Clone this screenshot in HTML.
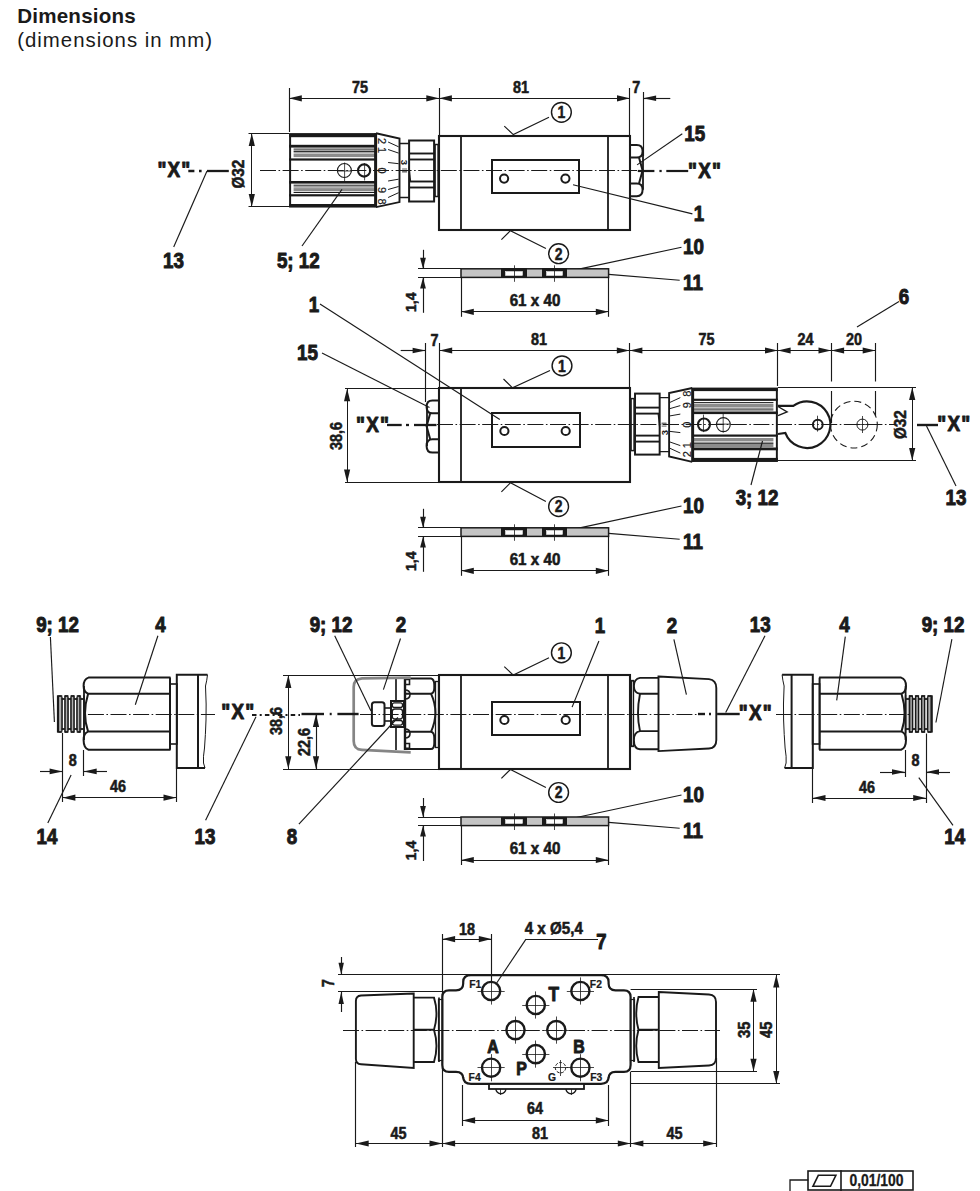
<!DOCTYPE html>
<html><head><meta charset="utf-8"><style>html,body{margin:0;padding:0;background:#fff;width:980px;height:1191px;overflow:hidden;position:relative}</style></head>
<body><div style="position:absolute;left:17.2px;top:0;font-family:'Liberation Sans',sans-serif;color:#1a1a1a">
<div style="position:absolute;left:0;top:4.2px;font-size:20.6px;font-weight:bold;white-space:nowrap;letter-spacing:0.2px">Dimensions</div>
<div style="position:absolute;left:0;top:28.6px;font-size:20.4px;white-space:nowrap;letter-spacing:1.0px">(dimensions in mm)</div>
</div>
<svg width="980" height="1191" viewBox="0 0 980 1191" style="position:absolute;left:0;top:0" fill="#1a1a1a"><style>text{font-family:"Liberation Sans",sans-serif}</style><line x1="289.5" y1="88" x2="289.5" y2="132" stroke="#1a1a1a" stroke-width="1.15" />
<line x1="439.5" y1="88" x2="439.5" y2="135" stroke="#1a1a1a" stroke-width="1.15" />
<line x1="629.5" y1="88" x2="629.5" y2="135" stroke="#1a1a1a" stroke-width="1.15" />
<line x1="643.5" y1="92" x2="643.5" y2="156" stroke="#1a1a1a" stroke-width="1.15" />
<line x1="289" y1="98.5" x2="439.1" y2="98.5" stroke="#1a1a1a" stroke-width="1" />
<polygon points="289,98.3 301.8,95.2 301.8,101.4" fill="#1a1a1a"/>
<polygon points="439.1,98.3 426.3,95.2 426.3,101.4" fill="#1a1a1a"/>
<line x1="439.1" y1="98.5" x2="629.8" y2="98.5" stroke="#1a1a1a" stroke-width="1" />
<polygon points="439.1,98.3 451.9,95.2 451.9,101.4" fill="#1a1a1a"/>
<polygon points="629.8,98.3 617,95.2 617,101.4" fill="#1a1a1a"/>
<line x1="643.1" y1="98.5" x2="670.3" y2="98.5" stroke="#1a1a1a" stroke-width="1.15" />
<polygon points="643.1,98.3 656.1,95.5 656.1,101.1" fill="#1a1a1a"/>
<text transform="translate(360,93) scale(0.9,1)" font-size="16" font-weight="bold" text-anchor="middle" stroke="#1a1a1a" stroke-width="0.55" stroke-linejoin="round">75</text>
<text transform="translate(521,93) scale(0.9,1)" font-size="16" font-weight="bold" text-anchor="middle" stroke="#1a1a1a" stroke-width="0.55" stroke-linejoin="round">81</text>
<text transform="translate(636.2,93) scale(0.9,1)" font-size="16" font-weight="bold" text-anchor="middle" stroke="#1a1a1a" stroke-width="0.55" stroke-linejoin="round">7</text>
<g transform="translate(439.1,170.5)"><rect x="-149" y="-36" width="86" height="72" fill="none" stroke="#1a1a1a" stroke-width="2" />
<rect x="-150" y="-37.3" width="86.9" height="4" fill="#1a1a1a"/>
<rect x="-150" y="-25.7" width="86.9" height="2.8" fill="#1a1a1a"/>
<rect x="-150" y="-12.1" width="86.9" height="2.2" fill="#1a1a1a"/>
<rect x="-150" y="10.5" width="86.9" height="2.6" fill="#1a1a1a"/>
<rect x="-150" y="23.7" width="86.9" height="2.2" fill="#1a1a1a"/>
<rect x="-150" y="33.5" width="86.9" height="3.1" fill="#1a1a1a"/>
<rect x="-145.5" y="-21.9" width="82.4" height="1" fill="#1a1a1a"/>
<rect x="-145.5" y="-19.9" width="82.4" height="1.3" fill="#1a1a1a"/>
<rect x="-145.5" y="-18" width="82.4" height="0.8" fill="#555"/>
<rect x="-145.5" y="-16.6" width="82.4" height="3.2" fill="#8c8c8c"/>
<rect x="-145.5" y="14.2" width="82.4" height="1" fill="#1a1a1a"/>
<rect x="-145.5" y="15.9" width="82.4" height="1.1" fill="#666"/>
<rect x="-145.5" y="17.6" width="82.4" height="3.2" fill="#8c8c8c"/>
<rect x="-145.5" y="21.5" width="82.4" height="1" fill="#1a1a1a"/>
<line x1="-64" y1="-37.3" x2="-64" y2="36.6" stroke="#1a1a1a" stroke-width="2" />
<circle cx="-94.7" cy="0" r="7" fill="none" stroke="#1a1a1a" stroke-width="1.1" />
<line x1="-94.5" y1="-8" x2="-94.5" y2="11" stroke="#1a1a1a" stroke-width="0.8" />
<line x1="-102" y1="0.5" x2="-87" y2="0.5" stroke="#1a1a1a" stroke-width="0.8" />
<circle cx="-75" cy="0" r="6.1" fill="none" stroke="#1a1a1a" stroke-width="2.1" />
<line x1="-74.5" y1="-7.5" x2="-74.5" y2="10" stroke="#1a1a1a" stroke-width="0.8" />
<path d="M-63.1,-37.3 L-39.6,-31.9 L-39.6,31.6 L-63.1,36.6" fill="none" stroke="#1a1a1a" stroke-width="1.9" />
<line x1="-51" y1="-28.5" x2="-40.5" y2="-23.7" stroke="#1a1a1a" stroke-width="1" />
<line x1="-51" y1="-21" x2="-40.5" y2="-17.4" stroke="#1a1a1a" stroke-width="1" />
<line x1="-51" y1="-8" x2="-40.5" y2="-6.8" stroke="#1a1a1a" stroke-width="1" />
<line x1="-51" y1="10.5" x2="-40.5" y2="8.7" stroke="#1a1a1a" stroke-width="1" />
<line x1="-51" y1="19" x2="-40.5" y2="16" stroke="#1a1a1a" stroke-width="1" />
<line x1="-51" y1="27" x2="-40.5" y2="22.2" stroke="#1a1a1a" stroke-width="1" />
<text transform="translate(-57.5,-29.5) rotate(90)" font-size="11" font-weight="normal" text-anchor="middle" dy="3.9" stroke="#1a1a1a" stroke-width="0.2">2</text>
<text transform="translate(-57.5,-20.5) rotate(90)" font-size="11" font-weight="normal" text-anchor="middle" dy="3.9" stroke="#1a1a1a" stroke-width="0.2">1</text>
<text transform="translate(-57.5,0) rotate(90)" font-size="11" font-weight="normal" text-anchor="middle" dy="3.9" stroke="#1a1a1a" stroke-width="0.2">0</text>
<text transform="translate(-57.5,19.5) rotate(90)" font-size="11" font-weight="normal" text-anchor="middle" dy="3.9" stroke="#1a1a1a" stroke-width="0.2">9</text>
<text transform="translate(-57.5,31) rotate(90)" font-size="11" font-weight="normal" text-anchor="middle" dy="3.9" stroke="#1a1a1a" stroke-width="0.2">8</text>
<path d="M-39.6,-27 L-30.3,-27 M-39.6,27 L-30.3,27" fill="none" stroke="#1a1a1a" stroke-width="1.4" />
<text transform="translate(-35,-8) rotate(90)" font-size="9.5" font-weight="bold" text-anchor="middle" dy="3.4">3</text>
<line x1="-37" y1="0.5" x2="-32" y2="0.5" stroke="#1a1a1a" stroke-width="0.8" />
<line x1="-37" y1="-1.5" x2="-32" y2="-1.5" stroke="#1a1a1a" stroke-width="0.7" />
<line x1="-37" y1="1.5" x2="-32" y2="1.5" stroke="#1a1a1a" stroke-width="0.7" />
<rect x="-30" y="-30" width="25" height="61" fill="none" stroke="#1a1a1a" stroke-width="2" />
<line x1="-30.1" y1="-17" x2="-4.9" y2="-17" stroke="#1a1a1a" stroke-width="1.9" />
<line x1="-30.1" y1="-11" x2="-4.9" y2="-11" stroke="#1a1a1a" stroke-width="1.9" />
<line x1="-30.1" y1="11" x2="-4.9" y2="11" stroke="#1a1a1a" stroke-width="1.9" />
<line x1="-30.1" y1="17" x2="-4.9" y2="17" stroke="#1a1a1a" stroke-width="1.9" />
<path d="M-30.1,-4 L-28.5,11" fill="none" stroke="#1a1a1a" stroke-width="1.2" />
<rect x="-4" y="-26" width="3" height="52" fill="none" stroke="#1a1a1a" stroke-width="1.5" /></g>
<rect x="439" y="136" width="191" height="94" fill="none" stroke="#1a1a1a" stroke-width="2.1" />
<line x1="461" y1="136.2" x2="461" y2="230.2" stroke="#1a1a1a" stroke-width="1.8" />
<line x1="608" y1="136.2" x2="608" y2="230.2" stroke="#1a1a1a" stroke-width="1.8" />
<rect x="492" y="160" width="87" height="33" fill="none" stroke="#1a1a1a" stroke-width="2" />
<circle cx="504.1" cy="178.6" r="4.1" fill="none" stroke="#1a1a1a" stroke-width="2" />
<circle cx="565.4" cy="178.6" r="4.1" fill="none" stroke="#1a1a1a" stroke-width="2" />
<path d="M629.8,145 L636.8,145 Q642.6,145 642.6,151.3 Q642.6,157.6 636.8,157.6 L629.8,157.6 M629.8,183.4 L636.8,183.4 Q642.6,183.4 642.6,189.85 Q642.6,196.3 636.8,196.3 L629.8,196.3 M639,157.6 L642.6,170.5 L639,183.4" fill="none" stroke="#1a1a1a" stroke-width="2" />
<line x1="643" y1="151.3" x2="643" y2="189.85" stroke="#1a1a1a" stroke-width="1.8" />
<line x1="248.5" y1="133.5" x2="289" y2="133.5" stroke="#1a1a1a" stroke-width="1.15" />
<line x1="248.5" y1="206.5" x2="289" y2="206.5" stroke="#1a1a1a" stroke-width="1.15" />
<line x1="251.5" y1="133.2" x2="251.5" y2="206.9" stroke="#1a1a1a" stroke-width="1" />
<polygon points="251.8,133.2 248.7,146 254.9,146" fill="#1a1a1a"/>
<polygon points="251.8,206.9 248.7,194.1 254.9,194.1" fill="#1a1a1a"/>
<text transform="translate(244,174.1) rotate(-90) scale(0.9,1)" font-size="17" font-weight="bold" text-anchor="middle" stroke="#1a1a1a" stroke-width="0.55" stroke-linejoin="round">Ø32</text>
<line x1="260" y1="170.5" x2="637" y2="170.5" stroke="#1a1a1a" stroke-width="1.15" stroke-dasharray="16 2.5 1.6 2.5"/>
<line x1="188.3" y1="171" x2="194.4" y2="171" stroke="#1a1a1a" stroke-width="2.5" />
<line x1="199" y1="171" x2="201.6" y2="171" stroke="#1a1a1a" stroke-width="2.5" />
<line x1="207" y1="171" x2="228.8" y2="171" stroke="#1a1a1a" stroke-width="2.3" />
<line x1="637.8" y1="171" x2="654.4" y2="171" stroke="#1a1a1a" stroke-width="2.2" />
<line x1="659.4" y1="171" x2="661.7" y2="171" stroke="#1a1a1a" stroke-width="2.2" />
<line x1="666.3" y1="171" x2="688.2" y2="171" stroke="#1a1a1a" stroke-width="2.2" />
<text transform="translate(172.6,176.7) scale(0.84,1)" font-size="22.5" font-weight="bold" text-anchor="middle" stroke="#1a1a1a" stroke-width="1.0" stroke-linejoin="round" letter-spacing="1.4" dx="2.2">"X"</text>
<text transform="translate(703.2,177.5) scale(0.84,1)" font-size="22.5" font-weight="bold" text-anchor="middle" stroke="#1a1a1a" stroke-width="1.0" stroke-linejoin="round" letter-spacing="1.4" dx="2.2">"X"</text>
<text transform="translate(173.5,267.5) scale(0.86,1)" font-size="21.8" font-weight="bold" text-anchor="middle" stroke="#1a1a1a" stroke-width="1.0" stroke-linejoin="round">13</text>
<line x1="173.7" y1="247" x2="207" y2="171" stroke="#1a1a1a" stroke-width="1.15" />
<text transform="translate(298.3,267.5) scale(0.86,1)" font-size="21.8" font-weight="bold" text-anchor="middle" stroke="#1a1a1a" stroke-width="1.0" stroke-linejoin="round">5; 12</text>
<line x1="302" y1="246" x2="342" y2="189.4" stroke="#1a1a1a" stroke-width="1.15" />
<text transform="translate(694.8,140.8) scale(0.86,1)" font-size="21.8" font-weight="bold" text-anchor="middle" stroke="#1a1a1a" stroke-width="1.0" stroke-linejoin="round">15</text>
<line x1="682.3" y1="133.7" x2="637.1" y2="164.9" stroke="#1a1a1a" stroke-width="1.15" />
<text transform="translate(699,221) scale(0.86,1)" font-size="21.8" font-weight="bold" text-anchor="middle" stroke="#1a1a1a" stroke-width="1.0" stroke-linejoin="round">1</text>
<line x1="692.4" y1="213.9" x2="573" y2="184.8" stroke="#1a1a1a" stroke-width="1.15" />
<circle cx="561.4" cy="112.3" r="9.9" fill="none" stroke="#1a1a1a" stroke-width="1.45" />
<text transform="translate(561.4,118.2) scale(0.85,1)" font-size="16.5" font-weight="bold" text-anchor="middle" stroke="#1a1a1a" stroke-width="0.5" stroke-linejoin="round">1</text>
<path d="M549,117.2 L513.3,134.6 L504.3,126.1" fill="none" stroke="#1a1a1a" stroke-width="1.15" />
<circle cx="558.6" cy="253.7" r="9.9" fill="none" stroke="#1a1a1a" stroke-width="1.45" />
<text transform="translate(558.6,259.6) scale(0.85,1)" font-size="16.5" font-weight="bold" text-anchor="middle" stroke="#1a1a1a" stroke-width="0.5" stroke-linejoin="round">2</text>
<path d="M545.9,248.6 L510.4,230.7 L501.4,239.6" fill="none" stroke="#1a1a1a" stroke-width="1.15" />
<text transform="translate(683,254) scale(0.86,1)" font-size="21.8" font-weight="bold" text-anchor="start" stroke="#1a1a1a" stroke-width="1.0" stroke-linejoin="round">10</text>
<line x1="681.5" y1="247.3" x2="567" y2="271.6" stroke="#1a1a1a" stroke-width="1.15" />
<text transform="translate(683,290) scale(0.86,1)" font-size="21.8" font-weight="bold" text-anchor="start" stroke="#1a1a1a" stroke-width="1.0" stroke-linejoin="round">11</text>
<line x1="679.7" y1="280.3" x2="608.6" y2="274.4" stroke="#1a1a1a" stroke-width="1.15" />
<rect x="461" y="268.8" width="147.6" height="8.6" fill="#c4c4c4" stroke="#1a1a1a" stroke-width="1.5"/>
<rect x="501.5" y="268.5" width="25" height="9" fill="#1a1a1a" stroke="#1a1a1a" stroke-width="1" />
<rect x="505.5" y="271.5" width="17" height="4" fill="#fff" stroke="#fff" stroke-width="0.5" />
<line x1="514.5" y1="265.3" x2="514.5" y2="281.8" stroke="#1a1a1a" stroke-width="0.8" />
<rect x="542.5" y="268.5" width="24" height="9" fill="#1a1a1a" stroke="#1a1a1a" stroke-width="1" />
<rect x="546.5" y="271.5" width="16" height="4" fill="#fff" stroke="#fff" stroke-width="0.5" />
<line x1="554.5" y1="265.3" x2="554.5" y2="281.8" stroke="#1a1a1a" stroke-width="0.8" />
<line x1="418" y1="268.5" x2="461" y2="268.5" stroke="#1a1a1a" stroke-width="1.15" />
<line x1="418" y1="277.5" x2="461" y2="277.5" stroke="#1a1a1a" stroke-width="1.15" />
<line x1="423.5" y1="249.8" x2="423.5" y2="268.8" stroke="#1a1a1a" stroke-width="1.15" />
<polygon points="423,268.8 420.1,257.8 425.9,257.8" fill="#1a1a1a"/>
<line x1="423.5" y1="277.4" x2="423.5" y2="312.8" stroke="#1a1a1a" stroke-width="1.15" />
<polygon points="423,277.4 420.1,288.4 425.9,288.4" fill="#1a1a1a"/>
<text transform="translate(415.5,302.3) rotate(-90) scale(0.9,1)" font-size="15.5" font-weight="bold" text-anchor="middle" stroke="#1a1a1a" stroke-width="0.55" stroke-linejoin="round">1,4</text>
<line x1="461.5" y1="277.4" x2="461.5" y2="316.8" stroke="#1a1a1a" stroke-width="1.15" />
<line x1="608.5" y1="277.4" x2="608.5" y2="316.8" stroke="#1a1a1a" stroke-width="1.15" />
<line x1="461" y1="311.5" x2="608.6" y2="311.5" stroke="#1a1a1a" stroke-width="1" />
<polygon points="461,311.8 473.8,308.7 473.8,314.9" fill="#1a1a1a"/>
<polygon points="608.6,311.8 595.8,308.7 595.8,314.9" fill="#1a1a1a"/>
<text transform="translate(535,305.8) scale(0.95,1)" font-size="16" font-weight="bold" text-anchor="middle" stroke="#1a1a1a" stroke-width="0.55" stroke-linejoin="round">61 x 40</text>
<line x1="425.5" y1="343" x2="425.5" y2="402" stroke="#1a1a1a" stroke-width="1.15" />
<line x1="439.5" y1="343" x2="439.5" y2="387" stroke="#1a1a1a" stroke-width="1.15" />
<line x1="629.5" y1="343" x2="629.5" y2="387" stroke="#1a1a1a" stroke-width="1.15" />
<line x1="777.5" y1="343" x2="777.5" y2="386" stroke="#1a1a1a" stroke-width="1.15" />
<line x1="831.5" y1="343" x2="831.5" y2="381.5" stroke="#1a1a1a" stroke-width="1.15" />
<line x1="831.5" y1="391" x2="831.5" y2="423" stroke="#1a1a1a" stroke-width="1.15" />
<line x1="875.5" y1="343" x2="875.5" y2="381.5" stroke="#1a1a1a" stroke-width="1.15" />
<line x1="875.5" y1="391" x2="875.5" y2="416" stroke="#1a1a1a" stroke-width="1.15" />
<line x1="400.7" y1="350.5" x2="425.6" y2="350.5" stroke="#1a1a1a" stroke-width="1.15" />
<polygon points="425.6,350.5 412.6,347.7 412.6,353.3" fill="#1a1a1a"/>
<line x1="439.4" y1="350.5" x2="629.6" y2="350.5" stroke="#1a1a1a" stroke-width="1" />
<polygon points="439.4,350.5 452.2,347.4 452.2,353.6" fill="#1a1a1a"/>
<polygon points="629.6,350.5 616.8,347.4 616.8,353.6" fill="#1a1a1a"/>
<line x1="629.6" y1="350.5" x2="777.8" y2="350.5" stroke="#1a1a1a" stroke-width="1" />
<polygon points="629.6,350.5 642.4,347.4 642.4,353.6" fill="#1a1a1a"/>
<polygon points="777.8,350.5 765,347.4 765,353.6" fill="#1a1a1a"/>
<line x1="777.8" y1="350.5" x2="831.3" y2="350.5" stroke="#1a1a1a" stroke-width="1" />
<polygon points="777.8,350.5 790.6,347.4 790.6,353.6" fill="#1a1a1a"/>
<polygon points="831.3,350.5 818.5,347.4 818.5,353.6" fill="#1a1a1a"/>
<line x1="831.3" y1="350.5" x2="875.5" y2="350.5" stroke="#1a1a1a" stroke-width="1" />
<polygon points="831.3,350.5 844.1,347.4 844.1,353.6" fill="#1a1a1a"/>
<polygon points="875.5,350.5 862.7,347.4 862.7,353.6" fill="#1a1a1a"/>
<text transform="translate(434.5,346) scale(0.9,1)" font-size="16" font-weight="bold" text-anchor="middle" stroke="#1a1a1a" stroke-width="0.55" stroke-linejoin="round">7</text>
<text transform="translate(539,345) scale(0.9,1)" font-size="16" font-weight="bold" text-anchor="middle" stroke="#1a1a1a" stroke-width="0.55" stroke-linejoin="round">81</text>
<text transform="translate(706.6,345) scale(0.9,1)" font-size="16" font-weight="bold" text-anchor="middle" stroke="#1a1a1a" stroke-width="0.55" stroke-linejoin="round">75</text>
<text transform="translate(805.5,345) scale(0.9,1)" font-size="16" font-weight="bold" text-anchor="middle" stroke="#1a1a1a" stroke-width="0.55" stroke-linejoin="round">24</text>
<text transform="translate(854,345) scale(0.9,1)" font-size="16" font-weight="bold" text-anchor="middle" stroke="#1a1a1a" stroke-width="0.55" stroke-linejoin="round">20</text>
<g transform="translate(630.1,424.6) rotate(180) scale(0.985,1)"><rect x="-149" y="-36" width="86" height="72" fill="none" stroke="#1a1a1a" stroke-width="2" />
<rect x="-150" y="-37.3" width="86.9" height="4" fill="#1a1a1a"/>
<rect x="-150" y="-25.7" width="86.9" height="2.8" fill="#1a1a1a"/>
<rect x="-150" y="-12.1" width="86.9" height="2.2" fill="#1a1a1a"/>
<rect x="-150" y="10.5" width="86.9" height="2.6" fill="#1a1a1a"/>
<rect x="-150" y="23.7" width="86.9" height="2.2" fill="#1a1a1a"/>
<rect x="-150" y="33.5" width="86.9" height="3.1" fill="#1a1a1a"/>
<rect x="-145.5" y="-21.9" width="82.4" height="1" fill="#1a1a1a"/>
<rect x="-145.5" y="-19.9" width="82.4" height="1.3" fill="#1a1a1a"/>
<rect x="-145.5" y="-18" width="82.4" height="0.8" fill="#555"/>
<rect x="-145.5" y="-16.6" width="82.4" height="3.2" fill="#8c8c8c"/>
<rect x="-145.5" y="14.2" width="82.4" height="1" fill="#1a1a1a"/>
<rect x="-145.5" y="15.9" width="82.4" height="1.1" fill="#666"/>
<rect x="-145.5" y="17.6" width="82.4" height="3.2" fill="#8c8c8c"/>
<rect x="-145.5" y="21.5" width="82.4" height="1" fill="#1a1a1a"/>
<line x1="-64" y1="-37.3" x2="-64" y2="36.6" stroke="#1a1a1a" stroke-width="2" />
<circle cx="-94.7" cy="0" r="7" fill="none" stroke="#1a1a1a" stroke-width="1.1" />
<line x1="-94.5" y1="-8" x2="-94.5" y2="11" stroke="#1a1a1a" stroke-width="0.8" />
<line x1="-102" y1="0.5" x2="-87" y2="0.5" stroke="#1a1a1a" stroke-width="0.8" />
<circle cx="-75" cy="0" r="6.1" fill="none" stroke="#1a1a1a" stroke-width="2.1" />
<line x1="-74.5" y1="-7.5" x2="-74.5" y2="10" stroke="#1a1a1a" stroke-width="0.8" />
<path d="M-63.1,-37.3 L-39.6,-31.9 L-39.6,31.6 L-63.1,36.6" fill="none" stroke="#1a1a1a" stroke-width="1.9" />
<line x1="-51" y1="-28.5" x2="-40.5" y2="-23.7" stroke="#1a1a1a" stroke-width="1" />
<line x1="-51" y1="-21" x2="-40.5" y2="-17.4" stroke="#1a1a1a" stroke-width="1" />
<line x1="-51" y1="-8" x2="-40.5" y2="-6.8" stroke="#1a1a1a" stroke-width="1" />
<line x1="-51" y1="10.5" x2="-40.5" y2="8.7" stroke="#1a1a1a" stroke-width="1" />
<line x1="-51" y1="19" x2="-40.5" y2="16" stroke="#1a1a1a" stroke-width="1" />
<line x1="-51" y1="27" x2="-40.5" y2="22.2" stroke="#1a1a1a" stroke-width="1" />
<text transform="translate(-57.5,-29.5) rotate(90)" font-size="11" font-weight="normal" text-anchor="middle" dy="3.9" stroke="#1a1a1a" stroke-width="0.2">2</text>
<text transform="translate(-57.5,-20.5) rotate(90)" font-size="11" font-weight="normal" text-anchor="middle" dy="3.9" stroke="#1a1a1a" stroke-width="0.2">1</text>
<text transform="translate(-57.5,0) rotate(90)" font-size="11" font-weight="normal" text-anchor="middle" dy="3.9" stroke="#1a1a1a" stroke-width="0.2">0</text>
<text transform="translate(-57.5,19.5) rotate(90)" font-size="11" font-weight="normal" text-anchor="middle" dy="3.9" stroke="#1a1a1a" stroke-width="0.2">9</text>
<text transform="translate(-57.5,31) rotate(90)" font-size="11" font-weight="normal" text-anchor="middle" dy="3.9" stroke="#1a1a1a" stroke-width="0.2">8</text>
<path d="M-39.6,-27 L-30.3,-27 M-39.6,27 L-30.3,27" fill="none" stroke="#1a1a1a" stroke-width="1.4" />
<text transform="translate(-35,-8) rotate(90)" font-size="9.5" font-weight="bold" text-anchor="middle" dy="3.4">3</text>
<line x1="-37" y1="0.5" x2="-32" y2="0.5" stroke="#1a1a1a" stroke-width="0.8" />
<line x1="-37" y1="-1.5" x2="-32" y2="-1.5" stroke="#1a1a1a" stroke-width="0.7" />
<line x1="-37" y1="1.5" x2="-32" y2="1.5" stroke="#1a1a1a" stroke-width="0.7" />
<rect x="-30" y="-30" width="25" height="61" fill="none" stroke="#1a1a1a" stroke-width="2" />
<line x1="-30.1" y1="-17" x2="-4.9" y2="-17" stroke="#1a1a1a" stroke-width="1.9" />
<line x1="-30.1" y1="-11" x2="-4.9" y2="-11" stroke="#1a1a1a" stroke-width="1.9" />
<line x1="-30.1" y1="11" x2="-4.9" y2="11" stroke="#1a1a1a" stroke-width="1.9" />
<line x1="-30.1" y1="17" x2="-4.9" y2="17" stroke="#1a1a1a" stroke-width="1.9" />
<path d="M-30.1,-4 L-28.5,11" fill="none" stroke="#1a1a1a" stroke-width="1.2" />
<rect x="-4" y="-26" width="3" height="52" fill="none" stroke="#1a1a1a" stroke-width="1.5" /></g>
<rect x="439" y="388" width="191" height="94" fill="none" stroke="#1a1a1a" stroke-width="2.1" />
<line x1="461" y1="388.5" x2="461" y2="482.3" stroke="#1a1a1a" stroke-width="1.8" />
<rect x="492" y="413" width="88" height="34" fill="none" stroke="#1a1a1a" stroke-width="2" />
<circle cx="504.4" cy="431" r="4.1" fill="none" stroke="#1a1a1a" stroke-width="2" />
<circle cx="565.7" cy="431" r="4.1" fill="none" stroke="#1a1a1a" stroke-width="2" />
<path d="M439.4,400.5 L432.4,400.5 Q426.6,400.5 426.6,406.9 Q426.6,413.3 432.4,413.3 L439.4,413.3 M439.4,439.3 L432.4,439.3 Q426.6,439.3 426.6,445.95 Q426.6,452.6 432.4,452.6 L439.4,452.6 M430.2,413.3 L426.6,426.3 L430.2,439.3" fill="none" stroke="#1a1a1a" stroke-width="2" />
<line x1="427" y1="406.9" x2="427" y2="445.95" stroke="#1a1a1a" stroke-width="1.8" />
<path d="M778,405.9 L793.3,405.9 A23.3,23.3 0 1 1 785.3,432.9 L778,434" fill="none" stroke="#1a1a1a" stroke-width="2.2" />
<path d="M778,406.5 L787.1,411.8 L778,415.7" fill="none" stroke="#1a1a1a" stroke-width="1.4" />
<circle cx="817.8" cy="424.6" r="4.9" fill="none" stroke="#1a1a1a" stroke-width="2" />
<line x1="817.5" y1="415.7" x2="817.5" y2="431.6" stroke="#1a1a1a" stroke-width="0.8" />
<circle cx="853.9" cy="424.6" r="23.4" fill="none" stroke="#1a1a1a" stroke-width="1.1" stroke-dasharray="7 4"/>
<circle cx="862.4" cy="424.6" r="5.5" fill="none" stroke="#1a1a1a" stroke-width="1" />
<line x1="862.5" y1="416" x2="862.5" y2="433" stroke="#1a1a1a" stroke-width="0.8" />
<line x1="855" y1="424.5" x2="870" y2="424.5" stroke="#1a1a1a" stroke-width="0.8" />
<line x1="777.8" y1="387.5" x2="916" y2="387.5" stroke="#1a1a1a" stroke-width="1.15" />
<line x1="777.8" y1="460.5" x2="916" y2="460.5" stroke="#1a1a1a" stroke-width="1.15" />
<line x1="912.5" y1="387.3" x2="912.5" y2="460.8" stroke="#1a1a1a" stroke-width="1" />
<polygon points="912.2,387.3 909.1,400.1 915.3,400.1" fill="#1a1a1a"/>
<polygon points="912.2,460.8 909.1,448 915.3,448" fill="#1a1a1a"/>
<text transform="translate(906,424.6) rotate(-90) scale(0.9,1)" font-size="17" font-weight="bold" text-anchor="middle" stroke="#1a1a1a" stroke-width="0.55" stroke-linejoin="round">Ø32</text>
<line x1="345" y1="388.5" x2="439.4" y2="388.5" stroke="#1a1a1a" stroke-width="1.15" />
<line x1="345" y1="482.5" x2="439.4" y2="482.5" stroke="#1a1a1a" stroke-width="1.15" />
<line x1="347.5" y1="388.5" x2="347.5" y2="482.3" stroke="#1a1a1a" stroke-width="1" />
<polygon points="347.1,388.5 344,401.3 350.2,401.3" fill="#1a1a1a"/>
<polygon points="347.1,482.3 344,469.5 350.2,469.5" fill="#1a1a1a"/>
<text transform="translate(341.5,436) rotate(-90) scale(0.9,1)" font-size="16" font-weight="bold" text-anchor="middle" stroke="#1a1a1a" stroke-width="0.55" stroke-linejoin="round">38,6</text>
<line x1="437" y1="424.5" x2="895" y2="424.5" stroke="#1a1a1a" stroke-width="1.15" stroke-dasharray="16 2.5 1.6 2.5"/>
<line x1="387" y1="425" x2="401.7" y2="425" stroke="#1a1a1a" stroke-width="2.3" />
<line x1="406" y1="425" x2="409" y2="425" stroke="#1a1a1a" stroke-width="2.3" />
<line x1="414" y1="425" x2="436.5" y2="425" stroke="#1a1a1a" stroke-width="2.3" />
<line x1="917" y1="425" x2="938" y2="425" stroke="#1a1a1a" stroke-width="2.4" />
<text transform="translate(371.2,432) scale(0.84,1)" font-size="22.5" font-weight="bold" text-anchor="middle" stroke="#1a1a1a" stroke-width="1.0" stroke-linejoin="round" letter-spacing="1.4" dx="2.2">"X"</text>
<text transform="translate(952.5,430.6) scale(0.84,1)" font-size="22.5" font-weight="bold" text-anchor="middle" stroke="#1a1a1a" stroke-width="1.0" stroke-linejoin="round" letter-spacing="1.4" dx="2.2">"X"</text>
<text transform="translate(314,312) scale(0.86,1)" font-size="21.8" font-weight="bold" text-anchor="middle" stroke="#1a1a1a" stroke-width="1.0" stroke-linejoin="round">1</text>
<line x1="320" y1="304" x2="499.8" y2="419.5" stroke="#1a1a1a" stroke-width="1.15" />
<text transform="translate(307.5,360) scale(0.86,1)" font-size="21.8" font-weight="bold" text-anchor="middle" stroke="#1a1a1a" stroke-width="1.0" stroke-linejoin="round">15</text>
<line x1="322" y1="353" x2="429.5" y2="407.5" stroke="#1a1a1a" stroke-width="1.15" />
<text transform="translate(757,505) scale(0.86,1)" font-size="21.8" font-weight="bold" text-anchor="middle" stroke="#1a1a1a" stroke-width="1.0" stroke-linejoin="round">3; 12</text>
<line x1="751" y1="485" x2="762.5" y2="441" stroke="#1a1a1a" stroke-width="1.15" />
<text transform="translate(956,505) scale(0.86,1)" font-size="21.8" font-weight="bold" text-anchor="middle" stroke="#1a1a1a" stroke-width="1.0" stroke-linejoin="round">13</text>
<line x1="956" y1="486" x2="926.5" y2="426" stroke="#1a1a1a" stroke-width="1.15" />
<text transform="translate(904,304) scale(0.86,1)" font-size="21.8" font-weight="bold" text-anchor="middle" stroke="#1a1a1a" stroke-width="1.0" stroke-linejoin="round">6</text>
<line x1="899" y1="301.5" x2="857" y2="327" stroke="#1a1a1a" stroke-width="1.15" />
<circle cx="562" cy="365.8" r="9.9" fill="none" stroke="#1a1a1a" stroke-width="1.45" />
<text transform="translate(562,371.7) scale(0.85,1)" font-size="16.5" font-weight="bold" text-anchor="middle" stroke="#1a1a1a" stroke-width="0.5" stroke-linejoin="round">1</text>
<path d="M550,370.5 L512.5,387.8 L503.5,379" fill="none" stroke="#1a1a1a" stroke-width="1.15" />
<circle cx="558.6" cy="506.5" r="9.9" fill="none" stroke="#1a1a1a" stroke-width="1.45" />
<text transform="translate(558.6,512.4) scale(0.85,1)" font-size="16.5" font-weight="bold" text-anchor="middle" stroke="#1a1a1a" stroke-width="0.5" stroke-linejoin="round">2</text>
<path d="M545.9,501.5 L510.4,482.8 L501.4,491.8" fill="none" stroke="#1a1a1a" stroke-width="1.15" />
<text transform="translate(683,513) scale(0.86,1)" font-size="21.8" font-weight="bold" text-anchor="start" stroke="#1a1a1a" stroke-width="1.0" stroke-linejoin="round">10</text>
<line x1="681.5" y1="506" x2="567" y2="530.6" stroke="#1a1a1a" stroke-width="1.15" />
<text transform="translate(683,549) scale(0.86,1)" font-size="21.8" font-weight="bold" text-anchor="start" stroke="#1a1a1a" stroke-width="1.0" stroke-linejoin="round">11</text>
<line x1="679.7" y1="539.3" x2="608.6" y2="533.4" stroke="#1a1a1a" stroke-width="1.15" />
<rect x="461" y="527.8" width="147.6" height="8.6" fill="#c4c4c4" stroke="#1a1a1a" stroke-width="1.5"/>
<rect x="501.5" y="527.5" width="25" height="9" fill="#1a1a1a" stroke="#1a1a1a" stroke-width="1" />
<rect x="505.5" y="530.5" width="17" height="4" fill="#fff" stroke="#fff" stroke-width="0.5" />
<line x1="514.5" y1="524.3" x2="514.5" y2="540.8" stroke="#1a1a1a" stroke-width="0.8" />
<rect x="542.5" y="527.5" width="24" height="9" fill="#1a1a1a" stroke="#1a1a1a" stroke-width="1" />
<rect x="546.5" y="530.5" width="16" height="4" fill="#fff" stroke="#fff" stroke-width="0.5" />
<line x1="554.5" y1="524.3" x2="554.5" y2="540.8" stroke="#1a1a1a" stroke-width="0.8" />
<line x1="418" y1="527.5" x2="461" y2="527.5" stroke="#1a1a1a" stroke-width="1.15" />
<line x1="418" y1="536.5" x2="461" y2="536.5" stroke="#1a1a1a" stroke-width="1.15" />
<line x1="423.5" y1="508.8" x2="423.5" y2="527.8" stroke="#1a1a1a" stroke-width="1.15" />
<polygon points="423,527.8 420.1,516.8 425.9,516.8" fill="#1a1a1a"/>
<line x1="423.5" y1="536.4" x2="423.5" y2="571.8" stroke="#1a1a1a" stroke-width="1.15" />
<polygon points="423,536.4 420.1,547.4 425.9,547.4" fill="#1a1a1a"/>
<text transform="translate(415.5,561.3) rotate(-90) scale(0.9,1)" font-size="15.5" font-weight="bold" text-anchor="middle" stroke="#1a1a1a" stroke-width="0.55" stroke-linejoin="round">1,4</text>
<line x1="461.5" y1="536.4" x2="461.5" y2="575.8" stroke="#1a1a1a" stroke-width="1.15" />
<line x1="608.5" y1="536.4" x2="608.5" y2="575.8" stroke="#1a1a1a" stroke-width="1.15" />
<line x1="461" y1="570.5" x2="608.6" y2="570.5" stroke="#1a1a1a" stroke-width="1" />
<polygon points="461,570.8 473.8,567.7 473.8,573.9" fill="#1a1a1a"/>
<polygon points="608.6,570.8 595.8,567.7 595.8,573.9" fill="#1a1a1a"/>
<text transform="translate(535,564.8) scale(0.95,1)" font-size="16" font-weight="bold" text-anchor="middle" stroke="#1a1a1a" stroke-width="0.55" stroke-linejoin="round">61 x 40</text>
<rect x="439" y="675" width="191" height="94" fill="none" stroke="#1a1a1a" stroke-width="2.1" />
<line x1="461" y1="675.1" x2="461" y2="769" stroke="#1a1a1a" stroke-width="1.8" />
<line x1="608" y1="675.1" x2="608" y2="769" stroke="#1a1a1a" stroke-width="1.8" />
<rect x="492" y="702" width="88" height="33" fill="none" stroke="#1a1a1a" stroke-width="2" />
<circle cx="504.4" cy="720" r="4.1" fill="none" stroke="#1a1a1a" stroke-width="2" />
<circle cx="565.7" cy="720" r="4.1" fill="none" stroke="#1a1a1a" stroke-width="2" />
<path d="M404.8,678.4 L431,678.4 Q434.3,679 434.3,685 L434.3,688 Q434.3,693 431,693.7 L404.8,693.7 M431,693.7 Q439.8,712.7 431,731.8 L404.8,731.8 M431,731.8 Q434.3,732.5 434.3,738 L434.3,743 Q434.3,749.1 431,749.1 L404.8,749.1" fill="none" stroke="#1a1a1a" stroke-width="2" />
<line x1="405" y1="678" x2="405" y2="750" stroke="#1a1a1a" stroke-width="2.4" />
<path d="M404.8,679.5 L409.5,679.5 L409.5,684.5 L404.8,684.5 M404.8,690 Q410,690 410,694.5 Q410,699 404.8,699 M404.8,729 Q410,729 410,733.5 Q410,738 404.8,738 M404.8,743.5 L409.5,743.5 L409.5,748.3 L404.8,748.3" fill="none" stroke="#1a1a1a" stroke-width="1.6" />
<rect x="435.5" y="681.5" width="3" height="66" fill="none" stroke="#1a1a1a" stroke-width="1.3" />
<line x1="396" y1="678" x2="396" y2="700.9" stroke="#1a1a1a" stroke-width="1.7" />
<line x1="396" y1="727.1" x2="396" y2="750" stroke="#1a1a1a" stroke-width="1.7" />
<rect x="391" y="701" width="13" height="26" fill="none" stroke="#1a1a1a" stroke-width="2" />
<rect x="392.3" y="702.8" width="10.2" height="4.6" rx="2" fill="none" stroke="#1a1a1a" stroke-width="1.3"/>
<rect x="392.3" y="720.5" width="10.2" height="4.6" rx="2" fill="none" stroke="#1a1a1a" stroke-width="1.3"/>
<rect x="392.3" y="709" width="10.2" height="10" rx="2.5" fill="none" stroke="#1a1a1a" stroke-width="1.3"/>
<line x1="384.5" y1="708" x2="390.6" y2="708" stroke="#1a1a1a" stroke-width="1.6" />
<line x1="384.5" y1="721" x2="390.6" y2="721" stroke="#1a1a1a" stroke-width="1.6" />
<rect x="371.9" y="702.3" width="12.6" height="23.8" rx="2.5" fill="#fff" stroke="#1a1a1a" stroke-width="2.0"/>
<path d="M410.7,677.6 L362,678.4 Q353.7,679 353.7,687 L353.7,741 Q353.7,749.6 362,749.8 L410.7,752.3" fill="none" stroke="#858585" stroke-width="2.7" />
<line x1="283" y1="675.5" x2="439.4" y2="675.5" stroke="#1a1a1a" stroke-width="1.15" />
<line x1="283" y1="769.5" x2="439.4" y2="769.5" stroke="#1a1a1a" stroke-width="1.15" />
<line x1="288.5" y1="675.1" x2="288.5" y2="769" stroke="#1a1a1a" stroke-width="1" />
<polygon points="288.3,675.1 285.2,687.9 291.4,687.9" fill="#1a1a1a"/>
<polygon points="288.3,769 285.2,756.2 291.4,756.2" fill="#1a1a1a"/>
<line x1="316.5" y1="714.1" x2="316.5" y2="769" stroke="#1a1a1a" stroke-width="1.15" />
<polygon points="316,714.1 312.9,726.9 319.1,726.9" fill="#1a1a1a"/>
<polygon points="316,769 312.9,756.2 319.1,756.2" fill="#1a1a1a"/>
<text transform="translate(281.5,721) rotate(-90) scale(0.9,1)" font-size="16" font-weight="bold" text-anchor="middle" stroke="#1a1a1a" stroke-width="0.55" stroke-linejoin="round">38,6</text>
<text transform="translate(309.5,742) rotate(-90) scale(0.9,1)" font-size="16" font-weight="bold" text-anchor="middle" stroke="#1a1a1a" stroke-width="0.55" stroke-linejoin="round">22,6</text>
<line x1="252" y1="715" x2="300" y2="715" stroke="#1a1a1a" stroke-width="2.2" stroke-dasharray="4.5 3.2 2 3.2"/>
<line x1="301.5" y1="714" x2="324" y2="714" stroke="#1a1a1a" stroke-width="2.4" />
<line x1="329.7" y1="714" x2="331.7" y2="714" stroke="#1a1a1a" stroke-width="2.4" />
<line x1="337.4" y1="714" x2="358.6" y2="714" stroke="#1a1a1a" stroke-width="2.4" />
<line x1="360" y1="714.5" x2="698" y2="714.5" stroke="#1a1a1a" stroke-width="1.15" stroke-dasharray="16 2.5 1.6 2.5"/>
<text transform="translate(236.5,719.4) scale(0.84,1)" font-size="22.5" font-weight="bold" text-anchor="middle" stroke="#1a1a1a" stroke-width="1.0" stroke-linejoin="round" letter-spacing="1.4" dx="2.2">"X"</text>
<rect x="631.5" y="680.5" width="2" height="66" fill="none" stroke="#1a1a1a" stroke-width="1.3" />
<path d="M658.5,677.9 L640,677.9 Q633.9,679 633.9,686 Q633.9,693 640,693.8 L658.5,693.8 M640,693.8 Q636,714 640,731.1 L658.5,731.1 M640,731.1 Q633.9,732 633.9,740 Q633.9,749 640,749.3 L658.5,749.3" fill="none" stroke="#1a1a1a" stroke-width="1.9" />
<path d="M658.5,676.5 L709,679.1 Q716.3,680 716.3,688 L716.3,740 Q716.3,748 709,748.5 L658.5,751.1 Z" fill="none" stroke="#1a1a1a" stroke-width="1.9" />
<line x1="698" y1="714" x2="705" y2="714" stroke="#1a1a1a" stroke-width="2.4" />
<line x1="709" y1="714" x2="711" y2="714" stroke="#1a1a1a" stroke-width="2.4" />
<line x1="717.1" y1="714" x2="739.7" y2="714" stroke="#1a1a1a" stroke-width="2.4" />
<text transform="translate(754,719.8) scale(0.84,1)" font-size="22.5" font-weight="bold" text-anchor="middle" stroke="#1a1a1a" stroke-width="1.0" stroke-linejoin="round" letter-spacing="1.4" dx="2.2">"X"</text>
<rect x="58.5" y="695.4" width="25.1" height="37.1" fill="#b0b0b0"/>
<line x1="58" y1="695.4" x2="58" y2="732.5" stroke="#1a1a1a" stroke-width="1.5" />
<line x1="62" y1="695.4" x2="62" y2="732.5" stroke="#1a1a1a" stroke-width="1.5" />
<line x1="65" y1="695.4" x2="65" y2="732.5" stroke="#1a1a1a" stroke-width="1.5" />
<line x1="68" y1="695.4" x2="68" y2="732.5" stroke="#1a1a1a" stroke-width="1.5" />
<line x1="71" y1="695.4" x2="71" y2="732.5" stroke="#1a1a1a" stroke-width="1.5" />
<line x1="74" y1="695.4" x2="74" y2="732.5" stroke="#1a1a1a" stroke-width="1.5" />
<line x1="77" y1="695.4" x2="77" y2="732.5" stroke="#1a1a1a" stroke-width="1.5" />
<line x1="80" y1="695.4" x2="80" y2="732.5" stroke="#1a1a1a" stroke-width="1.5" />
<line x1="84" y1="695.4" x2="84" y2="732.5" stroke="#1a1a1a" stroke-width="1.5" />
<line x1="63.5" y1="696" x2="63.5" y2="731.9" stroke="#fff" stroke-width="1" />
<line x1="69.5" y1="696" x2="69.5" y2="731.9" stroke="#fff" stroke-width="1" />
<line x1="75.5" y1="696" x2="75.5" y2="731.9" stroke="#fff" stroke-width="1" />
<line x1="82.5" y1="696" x2="82.5" y2="731.9" stroke="#fff" stroke-width="1" />
<line x1="58.5" y1="696" x2="61.64" y2="696" stroke="#1a1a1a" stroke-width="1.8" />
<line x1="58.5" y1="732" x2="61.64" y2="732" stroke="#1a1a1a" stroke-width="1.8" />
<line x1="64.78" y1="696" x2="67.91" y2="696" stroke="#1a1a1a" stroke-width="1.8" />
<line x1="64.78" y1="732" x2="67.91" y2="732" stroke="#1a1a1a" stroke-width="1.8" />
<line x1="71.05" y1="696" x2="74.19" y2="696" stroke="#1a1a1a" stroke-width="1.8" />
<line x1="71.05" y1="732" x2="74.19" y2="732" stroke="#1a1a1a" stroke-width="1.8" />
<line x1="77.32" y1="696" x2="80.46" y2="696" stroke="#1a1a1a" stroke-width="1.8" />
<line x1="77.32" y1="732" x2="80.46" y2="732" stroke="#1a1a1a" stroke-width="1.8" />
<line x1="61.64" y1="699" x2="64.78" y2="699" stroke="#1a1a1a" stroke-width="1.8" />
<line x1="61.64" y1="729" x2="64.78" y2="729" stroke="#1a1a1a" stroke-width="1.8" />
<rect x="62.39" y="694.9" width="1.64" height="2.5" fill="#fff"/>
<rect x="62.39" y="730.5" width="1.64" height="2.5" fill="#fff"/>
<line x1="67.91" y1="699" x2="71.05" y2="699" stroke="#1a1a1a" stroke-width="1.8" />
<line x1="67.91" y1="729" x2="71.05" y2="729" stroke="#1a1a1a" stroke-width="1.8" />
<rect x="68.66" y="694.9" width="1.64" height="2.5" fill="#fff"/>
<rect x="68.66" y="730.5" width="1.64" height="2.5" fill="#fff"/>
<line x1="74.19" y1="699" x2="77.33" y2="699" stroke="#1a1a1a" stroke-width="1.8" />
<line x1="74.19" y1="729" x2="77.33" y2="729" stroke="#1a1a1a" stroke-width="1.8" />
<rect x="74.94" y="694.9" width="1.64" height="2.5" fill="#fff"/>
<rect x="74.94" y="730.5" width="1.64" height="2.5" fill="#fff"/>
<line x1="80.46" y1="699" x2="83.6" y2="699" stroke="#1a1a1a" stroke-width="1.8" />
<line x1="80.46" y1="729" x2="83.6" y2="729" stroke="#1a1a1a" stroke-width="1.8" />
<rect x="81.21" y="694.9" width="1.64" height="2.5" fill="#fff"/>
<rect x="81.21" y="730.5" width="1.64" height="2.5" fill="#fff"/>
<line x1="58" y1="695.4" x2="58" y2="732.5" stroke="#1a1a1a" stroke-width="2.2" />
<path d="M170.5,677.6 L88.5,677.6 Q83.6,679 83.6,686 Q83.6,692 88.1,693.7 L170.5,693.7 M88.1,693.7 Q81.9,714 88.1,731.6 L170.5,731.6 M88.1,731.6 Q83.6,733 83.6,740 Q83.6,748 88.5,749.7 L170.5,749.7" fill="none" stroke="#1a1a1a" stroke-width="2" />
<line x1="84" y1="686" x2="84" y2="740" stroke="#1a1a1a" stroke-width="1.8" />
<line x1="170" y1="677.6" x2="170" y2="749.7" stroke="#1a1a1a" stroke-width="2" />
<rect x="170" y="684" width="7" height="60" fill="none" stroke="#1a1a1a" stroke-width="1.6" />
<path d="M207.5,674.7 L176.8,674.7 L176.8,768 L205,768" fill="none" stroke="#1a1a1a" stroke-width="2" />
<path d="M207.5,674.7 Q207,680 205.5,686 Q206.5,705 206,720 Q205.5,735 204.5,748 Q203,757 203.5,763 L205,768" fill="none" stroke="#1a1a1a" stroke-width="1" />
<line x1="198" y1="674.7" x2="198" y2="768" stroke="#1a1a1a" stroke-width="2" />
<g transform="translate(989.6,0) scale(-1,1)"><rect x="58.5" y="695.4" width="25.1" height="37.1" fill="#b0b0b0"/>
<line x1="58" y1="695.4" x2="58" y2="732.5" stroke="#1a1a1a" stroke-width="1.5" />
<line x1="62" y1="695.4" x2="62" y2="732.5" stroke="#1a1a1a" stroke-width="1.5" />
<line x1="65" y1="695.4" x2="65" y2="732.5" stroke="#1a1a1a" stroke-width="1.5" />
<line x1="68" y1="695.4" x2="68" y2="732.5" stroke="#1a1a1a" stroke-width="1.5" />
<line x1="71" y1="695.4" x2="71" y2="732.5" stroke="#1a1a1a" stroke-width="1.5" />
<line x1="74" y1="695.4" x2="74" y2="732.5" stroke="#1a1a1a" stroke-width="1.5" />
<line x1="77" y1="695.4" x2="77" y2="732.5" stroke="#1a1a1a" stroke-width="1.5" />
<line x1="80" y1="695.4" x2="80" y2="732.5" stroke="#1a1a1a" stroke-width="1.5" />
<line x1="84" y1="695.4" x2="84" y2="732.5" stroke="#1a1a1a" stroke-width="1.5" />
<line x1="63.5" y1="696" x2="63.5" y2="731.9" stroke="#fff" stroke-width="1" />
<line x1="69.5" y1="696" x2="69.5" y2="731.9" stroke="#fff" stroke-width="1" />
<line x1="75.5" y1="696" x2="75.5" y2="731.9" stroke="#fff" stroke-width="1" />
<line x1="82.5" y1="696" x2="82.5" y2="731.9" stroke="#fff" stroke-width="1" />
<line x1="58.5" y1="696" x2="61.64" y2="696" stroke="#1a1a1a" stroke-width="1.8" />
<line x1="58.5" y1="732" x2="61.64" y2="732" stroke="#1a1a1a" stroke-width="1.8" />
<line x1="64.78" y1="696" x2="67.91" y2="696" stroke="#1a1a1a" stroke-width="1.8" />
<line x1="64.78" y1="732" x2="67.91" y2="732" stroke="#1a1a1a" stroke-width="1.8" />
<line x1="71.05" y1="696" x2="74.19" y2="696" stroke="#1a1a1a" stroke-width="1.8" />
<line x1="71.05" y1="732" x2="74.19" y2="732" stroke="#1a1a1a" stroke-width="1.8" />
<line x1="77.32" y1="696" x2="80.46" y2="696" stroke="#1a1a1a" stroke-width="1.8" />
<line x1="77.32" y1="732" x2="80.46" y2="732" stroke="#1a1a1a" stroke-width="1.8" />
<line x1="61.64" y1="699" x2="64.78" y2="699" stroke="#1a1a1a" stroke-width="1.8" />
<line x1="61.64" y1="729" x2="64.78" y2="729" stroke="#1a1a1a" stroke-width="1.8" />
<rect x="62.39" y="694.9" width="1.64" height="2.5" fill="#fff"/>
<rect x="62.39" y="730.5" width="1.64" height="2.5" fill="#fff"/>
<line x1="67.91" y1="699" x2="71.05" y2="699" stroke="#1a1a1a" stroke-width="1.8" />
<line x1="67.91" y1="729" x2="71.05" y2="729" stroke="#1a1a1a" stroke-width="1.8" />
<rect x="68.66" y="694.9" width="1.64" height="2.5" fill="#fff"/>
<rect x="68.66" y="730.5" width="1.64" height="2.5" fill="#fff"/>
<line x1="74.19" y1="699" x2="77.33" y2="699" stroke="#1a1a1a" stroke-width="1.8" />
<line x1="74.19" y1="729" x2="77.33" y2="729" stroke="#1a1a1a" stroke-width="1.8" />
<rect x="74.94" y="694.9" width="1.64" height="2.5" fill="#fff"/>
<rect x="74.94" y="730.5" width="1.64" height="2.5" fill="#fff"/>
<line x1="80.46" y1="699" x2="83.6" y2="699" stroke="#1a1a1a" stroke-width="1.8" />
<line x1="80.46" y1="729" x2="83.6" y2="729" stroke="#1a1a1a" stroke-width="1.8" />
<rect x="81.21" y="694.9" width="1.64" height="2.5" fill="#fff"/>
<rect x="81.21" y="730.5" width="1.64" height="2.5" fill="#fff"/>
<line x1="58" y1="695.4" x2="58" y2="732.5" stroke="#1a1a1a" stroke-width="2.2" />
<path d="M170.5,677.6 L88.5,677.6 Q83.6,679 83.6,686 Q83.6,692 88.1,693.7 L170.5,693.7 M88.1,693.7 Q81.9,714 88.1,731.6 L170.5,731.6 M88.1,731.6 Q83.6,733 83.6,740 Q83.6,748 88.5,749.7 L170.5,749.7" fill="none" stroke="#1a1a1a" stroke-width="2" />
<line x1="84" y1="686" x2="84" y2="740" stroke="#1a1a1a" stroke-width="1.8" />
<line x1="170" y1="677.6" x2="170" y2="749.7" stroke="#1a1a1a" stroke-width="2" />
<rect x="170" y="684" width="7" height="60" fill="none" stroke="#1a1a1a" stroke-width="1.6" />
<path d="M207.5,674.7 L176.8,674.7 L176.8,768 L205,768" fill="none" stroke="#1a1a1a" stroke-width="2" />
<path d="M207.5,674.7 Q207,680 205.5,686 Q206.5,705 206,720 Q205.5,735 204.5,748 Q203,757 203.5,763 L205,768" fill="none" stroke="#1a1a1a" stroke-width="1" />
<line x1="198" y1="674.7" x2="198" y2="768" stroke="#1a1a1a" stroke-width="2" /></g>
<line x1="87.9" y1="714.5" x2="215" y2="714.5" stroke="#1a1a1a" stroke-width="1.15" stroke-dasharray="16 2.5 1.6 2.5"/>
<line x1="62.5" y1="733" x2="62.5" y2="802" stroke="#1a1a1a" stroke-width="1.15" />
<line x1="83.5" y1="750" x2="83.5" y2="776" stroke="#1a1a1a" stroke-width="1.15" />
<line x1="176.5" y1="768.6" x2="176.5" y2="802" stroke="#1a1a1a" stroke-width="1.15" />
<line x1="40" y1="771.5" x2="62.6" y2="771.5" stroke="#1a1a1a" stroke-width="1.15" />
<polygon points="62.6,771.4 49.6,768.6 49.6,774.2" fill="#1a1a1a"/>
<line x1="83.7" y1="771.5" x2="107" y2="771.5" stroke="#1a1a1a" stroke-width="1.15" />
<polygon points="83.7,771.4 96.7,768.6 96.7,774.2" fill="#1a1a1a"/>
<line x1="62.6" y1="797.5" x2="176.3" y2="797.5" stroke="#1a1a1a" stroke-width="1" />
<polygon points="62.6,797.7 75.4,794.6 75.4,800.8" fill="#1a1a1a"/>
<polygon points="176.3,797.7 163.5,794.6 163.5,800.8" fill="#1a1a1a"/>
<text transform="translate(72.7,765.5) scale(0.9,1)" font-size="16" font-weight="bold" text-anchor="middle" stroke="#1a1a1a" stroke-width="0.55" stroke-linejoin="round">8</text>
<text transform="translate(118,792) scale(0.9,1)" font-size="16" font-weight="bold" text-anchor="middle" stroke="#1a1a1a" stroke-width="0.55" stroke-linejoin="round">46</text>
<text transform="translate(57.5,632) scale(0.86,1)" font-size="21.8" font-weight="bold" text-anchor="middle" stroke="#1a1a1a" stroke-width="1.0" stroke-linejoin="round">9; 12</text>
<line x1="50.4" y1="637" x2="54.4" y2="722" stroke="#1a1a1a" stroke-width="1.15" />
<text transform="translate(160.5,632) scale(0.86,1)" font-size="21.8" font-weight="bold" text-anchor="middle" stroke="#1a1a1a" stroke-width="1.0" stroke-linejoin="round">4</text>
<line x1="157.9" y1="635.8" x2="135.3" y2="704.8" stroke="#1a1a1a" stroke-width="1.15" />
<text transform="translate(47,844) scale(0.86,1)" font-size="21.8" font-weight="bold" text-anchor="middle" stroke="#1a1a1a" stroke-width="1.0" stroke-linejoin="round">14</text>
<line x1="47.8" y1="822.9" x2="71.1" y2="775" stroke="#1a1a1a" stroke-width="1.15" />
<text transform="translate(205,844) scale(0.86,1)" font-size="21.8" font-weight="bold" text-anchor="middle" stroke="#1a1a1a" stroke-width="1.0" stroke-linejoin="round">13</text>
<line x1="205.6" y1="820.2" x2="256" y2="716.7" stroke="#1a1a1a" stroke-width="1.15" />
<line x1="776" y1="714.5" x2="910" y2="714.5" stroke="#1a1a1a" stroke-width="1.15" stroke-dasharray="16 2.5 1.6 2.5"/>
<line x1="905.5" y1="750" x2="905.5" y2="777" stroke="#1a1a1a" stroke-width="1.15" />
<line x1="926.5" y1="733.5" x2="926.5" y2="803" stroke="#1a1a1a" stroke-width="1.15" />
<line x1="812.5" y1="769" x2="812.5" y2="803" stroke="#1a1a1a" stroke-width="1.15" />
<line x1="880" y1="772.5" x2="905" y2="772.5" stroke="#1a1a1a" stroke-width="1.15" />
<polygon points="905,772 892,769.2 892,774.8" fill="#1a1a1a"/>
<line x1="926" y1="772.5" x2="950" y2="772.5" stroke="#1a1a1a" stroke-width="1.15" />
<polygon points="926,772 939,769.2 939,774.8" fill="#1a1a1a"/>
<line x1="812.7" y1="798.5" x2="926" y2="798.5" stroke="#1a1a1a" stroke-width="1" />
<polygon points="812.7,798 825.5,794.9 825.5,801.1" fill="#1a1a1a"/>
<polygon points="926,798 913.2,794.9 913.2,801.1" fill="#1a1a1a"/>
<text transform="translate(915.5,766) scale(0.9,1)" font-size="16" font-weight="bold" text-anchor="middle" stroke="#1a1a1a" stroke-width="0.55" stroke-linejoin="round">8</text>
<text transform="translate(867,792.5) scale(0.9,1)" font-size="16" font-weight="bold" text-anchor="middle" stroke="#1a1a1a" stroke-width="0.55" stroke-linejoin="round">46</text>
<text transform="translate(760.3,632) scale(0.86,1)" font-size="21.8" font-weight="bold" text-anchor="middle" stroke="#1a1a1a" stroke-width="1.0" stroke-linejoin="round">13</text>
<line x1="765" y1="635.7" x2="725.7" y2="712.5" stroke="#1a1a1a" stroke-width="1.15" />
<text transform="translate(844.5,632) scale(0.86,1)" font-size="21.8" font-weight="bold" text-anchor="middle" stroke="#1a1a1a" stroke-width="1.0" stroke-linejoin="round">4</text>
<line x1="845.3" y1="636.7" x2="836.7" y2="700.4" stroke="#1a1a1a" stroke-width="1.15" />
<text transform="translate(943,632) scale(0.86,1)" font-size="21.8" font-weight="bold" text-anchor="middle" stroke="#1a1a1a" stroke-width="1.0" stroke-linejoin="round">9; 12</text>
<line x1="951.9" y1="639.2" x2="935.9" y2="722.5" stroke="#1a1a1a" stroke-width="1.15" />
<text transform="translate(954.7,843.7) scale(0.86,1)" font-size="21.8" font-weight="bold" text-anchor="middle" stroke="#1a1a1a" stroke-width="1.0" stroke-linejoin="round">14</text>
<line x1="953" y1="825.3" x2="918.8" y2="777.6" stroke="#1a1a1a" stroke-width="1.15" />
<text transform="translate(331,632) scale(0.86,1)" font-size="21.8" font-weight="bold" text-anchor="middle" stroke="#1a1a1a" stroke-width="1.0" stroke-linejoin="round">9; 12</text>
<line x1="334.7" y1="635.8" x2="371" y2="711" stroke="#1a1a1a" stroke-width="1.15" />
<text transform="translate(401,632) scale(0.86,1)" font-size="21.8" font-weight="bold" text-anchor="middle" stroke="#1a1a1a" stroke-width="1.0" stroke-linejoin="round">2</text>
<line x1="400.5" y1="638.5" x2="383.4" y2="689.6" stroke="#1a1a1a" stroke-width="1.15" />
<text transform="translate(292,844) scale(0.86,1)" font-size="21.8" font-weight="bold" text-anchor="middle" stroke="#1a1a1a" stroke-width="1.0" stroke-linejoin="round">8</text>
<line x1="298.9" y1="824.2" x2="397.9" y2="717.5" stroke="#1a1a1a" stroke-width="1.15" />
<text transform="translate(600,633) scale(0.86,1)" font-size="21.8" font-weight="bold" text-anchor="middle" stroke="#1a1a1a" stroke-width="1.0" stroke-linejoin="round">1</text>
<line x1="598.9" y1="641" x2="572.1" y2="707.1" stroke="#1a1a1a" stroke-width="1.15" />
<text transform="translate(672,633) scale(0.86,1)" font-size="21.8" font-weight="bold" text-anchor="middle" stroke="#1a1a1a" stroke-width="1.0" stroke-linejoin="round">2</text>
<line x1="673.9" y1="639.3" x2="686.4" y2="694.6" stroke="#1a1a1a" stroke-width="1.15" />
<circle cx="561.4" cy="652.8" r="9.9" fill="none" stroke="#1a1a1a" stroke-width="1.45" />
<text transform="translate(561.4,658.7) scale(0.85,1)" font-size="16.5" font-weight="bold" text-anchor="middle" stroke="#1a1a1a" stroke-width="0.5" stroke-linejoin="round">1</text>
<path d="M549,657.7 L513.3,675.1 L504.3,666.6" fill="none" stroke="#1a1a1a" stroke-width="1.15" />
<circle cx="558.6" cy="792.5" r="9.9" fill="none" stroke="#1a1a1a" stroke-width="1.45" />
<text transform="translate(558.6,798.4) scale(0.85,1)" font-size="16.5" font-weight="bold" text-anchor="middle" stroke="#1a1a1a" stroke-width="0.5" stroke-linejoin="round">2</text>
<path d="M545.9,787.4 L510.4,769.5 L501.4,778.4" fill="none" stroke="#1a1a1a" stroke-width="1.15" />
<text transform="translate(683,801.8) scale(0.86,1)" font-size="21.8" font-weight="bold" text-anchor="start" stroke="#1a1a1a" stroke-width="1.0" stroke-linejoin="round">10</text>
<line x1="681.5" y1="795" x2="567" y2="819.5" stroke="#1a1a1a" stroke-width="1.15" />
<text transform="translate(683,837.5) scale(0.86,1)" font-size="21.8" font-weight="bold" text-anchor="start" stroke="#1a1a1a" stroke-width="1.0" stroke-linejoin="round">11</text>
<line x1="679.7" y1="828.3" x2="608.6" y2="822.4" stroke="#1a1a1a" stroke-width="1.15" />
<rect x="461" y="817" width="147.6" height="8.6" fill="#c4c4c4" stroke="#1a1a1a" stroke-width="1.5"/>
<rect x="501.5" y="817.5" width="25" height="8" fill="#1a1a1a" stroke="#1a1a1a" stroke-width="1" />
<rect x="505.5" y="819.5" width="17" height="4" fill="#fff" stroke="#fff" stroke-width="0.5" />
<line x1="514.5" y1="813.5" x2="514.5" y2="830" stroke="#1a1a1a" stroke-width="0.8" />
<rect x="542.5" y="817.5" width="24" height="8" fill="#1a1a1a" stroke="#1a1a1a" stroke-width="1" />
<rect x="546.5" y="819.5" width="16" height="4" fill="#fff" stroke="#fff" stroke-width="0.5" />
<line x1="554.5" y1="813.5" x2="554.5" y2="830" stroke="#1a1a1a" stroke-width="0.8" />
<line x1="418" y1="817.5" x2="461" y2="817.5" stroke="#1a1a1a" stroke-width="1.15" />
<line x1="418" y1="825.5" x2="461" y2="825.5" stroke="#1a1a1a" stroke-width="1.15" />
<line x1="423.5" y1="798" x2="423.5" y2="817" stroke="#1a1a1a" stroke-width="1.15" />
<polygon points="423,817 420.1,806 425.9,806" fill="#1a1a1a"/>
<line x1="423.5" y1="825.6" x2="423.5" y2="861" stroke="#1a1a1a" stroke-width="1.15" />
<polygon points="423,825.6 420.1,836.6 425.9,836.6" fill="#1a1a1a"/>
<text transform="translate(415.5,850.5) rotate(-90) scale(0.9,1)" font-size="15.5" font-weight="bold" text-anchor="middle" stroke="#1a1a1a" stroke-width="0.55" stroke-linejoin="round">1,4</text>
<line x1="461.5" y1="825.6" x2="461.5" y2="865" stroke="#1a1a1a" stroke-width="1.15" />
<line x1="608.5" y1="825.6" x2="608.5" y2="865" stroke="#1a1a1a" stroke-width="1.15" />
<line x1="461" y1="860.5" x2="608.6" y2="860.5" stroke="#1a1a1a" stroke-width="1" />
<polygon points="461,860 473.8,856.9 473.8,863.1" fill="#1a1a1a"/>
<polygon points="608.6,860 595.8,856.9 595.8,863.1" fill="#1a1a1a"/>
<text transform="translate(535,854) scale(0.95,1)" font-size="16" font-weight="bold" text-anchor="middle" stroke="#1a1a1a" stroke-width="0.55" stroke-linejoin="round">61 x 40</text>
<path d="M471,975.1 L601,975.1 Q608.6,975.1 608.6,982 L608.6,983.5 Q608.6,990.3 615.5,990.3 L624,990.3 Q630.6,990.3 630.6,997 L630.6,1065 Q630.6,1071.9 624,1071.9 L615.5,1071.9 Q608.6,1071.9 608.6,1078.5 L608.6,1077 L608.6,1076.8 Q608.6,1083.8 601,1083.8 L471,1083.8 Q463.2,1083.8 463.2,1077 L463.2,1078.5 Q463.2,1071.9 456,1071.9 L449,1071.9 Q442.3,1071.9 442.3,1065 L442.3,997 Q442.3,990.3 449,990.3 L456,990.3 Q463.2,990.3 463.2,983.5 L463.2,982 Q463.2,975.1 471,975.1 Z" fill="none" stroke="#1a1a1a" stroke-width="2.2" />
<path d="M500.9,1088.7 m-5,0 a5,5 0 0 0 10,0" fill="none" stroke="#1a1a1a" stroke-width="1.4" />
<line x1="500.5" y1="1084" x2="500.5" y2="1095" stroke="#1a1a1a" stroke-width="0.8" />
<path d="M571,1088.7 m-5,0 a5,5 0 0 0 10,0" fill="none" stroke="#1a1a1a" stroke-width="1.4" />
<line x1="571.5" y1="1084" x2="571.5" y2="1095" stroke="#1a1a1a" stroke-width="0.8" />
<rect x="489" y="1084" width="95" height="5" fill="#fff" stroke="#1a1a1a" stroke-width="1.8" />
<line x1="343" y1="1030.5" x2="720" y2="1030.5" stroke="#1a1a1a" stroke-width="1.15" stroke-dasharray="16 2.5 1.6 2.5"/>
<circle cx="491.1" cy="991" r="9.1" fill="none" stroke="#1a1a1a" stroke-width="2.4" />
<line x1="477.5" y1="991.5" x2="504.7" y2="991.5" stroke="#1a1a1a" stroke-width="0.8" />
<line x1="491.5" y1="977.4" x2="491.5" y2="1004.6" stroke="#1a1a1a" stroke-width="0.8" />
<circle cx="580.4" cy="991" r="9.1" fill="none" stroke="#1a1a1a" stroke-width="2.4" />
<line x1="566.8" y1="991.5" x2="594" y2="991.5" stroke="#1a1a1a" stroke-width="0.8" />
<line x1="580.5" y1="977.4" x2="580.5" y2="1004.6" stroke="#1a1a1a" stroke-width="0.8" />
<circle cx="535.8" cy="1005" r="9.1" fill="none" stroke="#1a1a1a" stroke-width="2.4" />
<line x1="522.2" y1="1005.5" x2="549.4" y2="1005.5" stroke="#1a1a1a" stroke-width="0.8" />
<line x1="535.5" y1="991.4" x2="535.5" y2="1018.6" stroke="#1a1a1a" stroke-width="0.8" />
<circle cx="515.5" cy="1030.1" r="9.1" fill="none" stroke="#1a1a1a" stroke-width="2.4" />
<line x1="501.9" y1="1030.5" x2="529.1" y2="1030.5" stroke="#1a1a1a" stroke-width="0.8" />
<line x1="515.5" y1="1016.5" x2="515.5" y2="1043.7" stroke="#1a1a1a" stroke-width="0.8" />
<circle cx="556.3" cy="1030.1" r="9.1" fill="none" stroke="#1a1a1a" stroke-width="2.4" />
<line x1="542.7" y1="1030.5" x2="569.9" y2="1030.5" stroke="#1a1a1a" stroke-width="0.8" />
<line x1="556.5" y1="1016.5" x2="556.5" y2="1043.7" stroke="#1a1a1a" stroke-width="0.8" />
<circle cx="535.8" cy="1054.1" r="9.1" fill="none" stroke="#1a1a1a" stroke-width="2.4" />
<line x1="522.2" y1="1054.5" x2="549.4" y2="1054.5" stroke="#1a1a1a" stroke-width="0.8" />
<line x1="535.5" y1="1040.5" x2="535.5" y2="1067.7" stroke="#1a1a1a" stroke-width="0.8" />
<circle cx="491.1" cy="1067.7" r="9.1" fill="none" stroke="#1a1a1a" stroke-width="2.4" />
<line x1="477.5" y1="1067.5" x2="504.7" y2="1067.5" stroke="#1a1a1a" stroke-width="0.8" />
<line x1="491.5" y1="1054.1" x2="491.5" y2="1081.3" stroke="#1a1a1a" stroke-width="0.8" />
<circle cx="580.4" cy="1067.7" r="9.1" fill="none" stroke="#1a1a1a" stroke-width="2.4" />
<line x1="566.8" y1="1067.5" x2="594" y2="1067.5" stroke="#1a1a1a" stroke-width="0.8" />
<line x1="580.5" y1="1054.1" x2="580.5" y2="1081.3" stroke="#1a1a1a" stroke-width="0.8" />
<circle cx="560.5" cy="1067.7" r="5.2" fill="none" stroke="#1a1a1a" stroke-width="1" stroke-dasharray="3 1.5"/>
<line x1="553" y1="1067.5" x2="568" y2="1067.5" stroke="#1a1a1a" stroke-width="0.8" />
<line x1="560.5" y1="1060" x2="560.5" y2="1076" stroke="#1a1a1a" stroke-width="0.8" />
<text transform="translate(475.3,988.2) scale(0.9,1)" font-size="11.5" font-weight="bold" text-anchor="middle" stroke="#1a1a1a" stroke-width="0.25">F1</text>
<text transform="translate(595.9,988) scale(0.9,1)" font-size="11.5" font-weight="bold" text-anchor="middle" stroke="#1a1a1a" stroke-width="0.25">F2</text>
<text transform="translate(474.6,1081.3) scale(0.9,1)" font-size="11.5" font-weight="bold" text-anchor="middle" stroke="#1a1a1a" stroke-width="0.25">F4</text>
<text transform="translate(596.3,1081.3) scale(0.9,1)" font-size="11.5" font-weight="bold" text-anchor="middle" stroke="#1a1a1a" stroke-width="0.25">F3</text>
<text transform="translate(552,1081.3) scale(0.9,1)" font-size="11.5" font-weight="bold" text-anchor="middle" stroke="#1a1a1a" stroke-width="0.25">G</text>
<text transform="translate(553.7,1001.4) scale(0.86,1)" font-size="20" font-weight="bold" text-anchor="middle" stroke="#1a1a1a" stroke-width="1.0" stroke-linejoin="round">T</text>
<text transform="translate(493.1,1053.1) scale(0.86,1)" font-size="18.5" font-weight="bold" text-anchor="middle" stroke="#1a1a1a" stroke-width="1.0" stroke-linejoin="round">A</text>
<text transform="translate(521.6,1075) scale(0.86,1)" font-size="18.5" font-weight="bold" text-anchor="middle" stroke="#1a1a1a" stroke-width="1.0" stroke-linejoin="round">P</text>
<text transform="translate(579,1053.1) scale(0.86,1)" font-size="18.5" font-weight="bold" text-anchor="middle" stroke="#1a1a1a" stroke-width="1.0" stroke-linejoin="round">B</text>
<path d="M413.7,993.5 L361,995.5 Q355.9,996 355.9,1001 L355.9,1059 Q355.9,1064 361,1064.2 L413.7,1068 Z" fill="none" stroke="#1a1a1a" stroke-width="1.9" />
<path d="M413.7,997.6 L434,997.6 Q438.9,1013 434,1029.8 Q438.9,1046 434,1062 L413.7,1062 M413.7,1029.8 L434,1029.8" fill="none" stroke="#1a1a1a" stroke-width="1.9" />
<line x1="439" y1="997.6" x2="439" y2="1062" stroke="#1a1a1a" stroke-width="1.7" />
<rect x="438.5" y="999.5" width="4" height="61" fill="none" stroke="#1a1a1a" stroke-width="1.2" />
<path d="M658.8,997 L638.5,997 Q634,1013 638.5,1029.8 Q634,1046 638.5,1062 L658.8,1062 M638.5,1029.8 L658.8,1029.8" fill="none" stroke="#1a1a1a" stroke-width="1.9" />
<line x1="634" y1="997" x2="634" y2="1062" stroke="#1a1a1a" stroke-width="1.7" />
<rect x="630.5" y="999.5" width="4" height="61" fill="none" stroke="#1a1a1a" stroke-width="1.2" />
<path d="M658.8,992 L709,994.5 Q716,995 716,1002 L716,1058 Q716,1065 709,1065.5 L658.8,1068 Z" fill="none" stroke="#1a1a1a" stroke-width="1.9" />
<line x1="442.5" y1="934" x2="442.5" y2="1147" stroke="#1a1a1a" stroke-width="1.15" />
<line x1="491.5" y1="934" x2="491.5" y2="982" stroke="#1a1a1a" stroke-width="1.15" />
<line x1="442.3" y1="939.5" x2="491.6" y2="939.5" stroke="#1a1a1a" stroke-width="1" />
<polygon points="442.3,939.1 455.1,936 455.1,942.2" fill="#1a1a1a"/>
<polygon points="491.6,939.1 478.8,936 478.8,942.2" fill="#1a1a1a"/>
<text transform="translate(466.9,934.5) scale(0.9,1)" font-size="16" font-weight="bold" text-anchor="middle" stroke="#1a1a1a" stroke-width="0.55" stroke-linejoin="round">18</text>
<text transform="translate(553.8,933.8) scale(0.95,1)" font-size="16" font-weight="bold" text-anchor="middle" stroke="#1a1a1a" stroke-width="0.55" stroke-linejoin="round">4 x Ø5,4</text>
<line x1="526" y1="939.5" x2="598" y2="939.5" stroke="#1a1a1a" stroke-width="1.15" />
<line x1="526" y1="939.1" x2="496" y2="984" stroke="#1a1a1a" stroke-width="1.15" />
<text transform="translate(601.5,949) scale(0.86,1)" font-size="21.5" font-weight="bold" text-anchor="middle" stroke="#1a1a1a" stroke-width="1.0" stroke-linejoin="round">7</text>
<line x1="338" y1="974.5" x2="780" y2="974.5" stroke="#1a1a1a" stroke-width="1.15" />
<line x1="338" y1="991.5" x2="442.3" y2="991.5" stroke="#1a1a1a" stroke-width="1.15" />
<line x1="341.5" y1="957" x2="341.5" y2="974.8" stroke="#1a1a1a" stroke-width="1.15" />
<polygon points="341.2,974.8 338.5,962.8 343.9,962.8" fill="#1a1a1a"/>
<line x1="341.5" y1="991.9" x2="341.5" y2="1012" stroke="#1a1a1a" stroke-width="1.15" />
<polygon points="341.2,991.9 338.5,1003.9 343.9,1003.9" fill="#1a1a1a"/>
<text transform="translate(334,983) rotate(-90) scale(0.9,1)" font-size="16" font-weight="bold" text-anchor="middle" stroke="#1a1a1a" stroke-width="0.55" stroke-linejoin="round">7</text>
<line x1="630.6" y1="989.5" x2="757" y2="989.5" stroke="#1a1a1a" stroke-width="1.15" />
<line x1="630.6" y1="1071.5" x2="757" y2="1071.5" stroke="#1a1a1a" stroke-width="1.15" />
<line x1="630.6" y1="1083.5" x2="780" y2="1083.5" stroke="#1a1a1a" stroke-width="1.15" />
<line x1="753.5" y1="989" x2="753.5" y2="1071.6" stroke="#1a1a1a" stroke-width="1" />
<polygon points="753.5,989 750.4,1001.8 756.6,1001.8" fill="#1a1a1a"/>
<polygon points="753.5,1071.6 750.4,1058.8 756.6,1058.8" fill="#1a1a1a"/>
<line x1="776.5" y1="974.8" x2="776.5" y2="1083.7" stroke="#1a1a1a" stroke-width="1" />
<polygon points="776.3,974.8 773.2,987.6 779.4,987.6" fill="#1a1a1a"/>
<polygon points="776.3,1083.7 773.2,1070.9 779.4,1070.9" fill="#1a1a1a"/>
<text transform="translate(749.5,1029.8) rotate(-90) scale(0.9,1)" font-size="16.5" font-weight="bold" text-anchor="middle" stroke="#1a1a1a" stroke-width="0.55" stroke-linejoin="round">35</text>
<text transform="translate(772,1029.8) rotate(-90) scale(0.9,1)" font-size="16.5" font-weight="bold" text-anchor="middle" stroke="#1a1a1a" stroke-width="0.55" stroke-linejoin="round">45</text>
<line x1="462.5" y1="1085" x2="462.5" y2="1126" stroke="#1a1a1a" stroke-width="1.15" />
<line x1="608.5" y1="1085" x2="608.5" y2="1126" stroke="#1a1a1a" stroke-width="1.15" />
<line x1="462.3" y1="1120.5" x2="608.6" y2="1120.5" stroke="#1a1a1a" stroke-width="1" />
<polygon points="462.3,1120.4 475.1,1117.3 475.1,1123.5" fill="#1a1a1a"/>
<polygon points="608.6,1120.4 595.8,1117.3 595.8,1123.5" fill="#1a1a1a"/>
<text transform="translate(535,1114) scale(0.9,1)" font-size="16" font-weight="bold" text-anchor="middle" stroke="#1a1a1a" stroke-width="0.55" stroke-linejoin="round">64</text>
<line x1="355.5" y1="1062" x2="355.5" y2="1147" stroke="#1a1a1a" stroke-width="1.15" />
<line x1="630.5" y1="1072" x2="630.5" y2="1147" stroke="#1a1a1a" stroke-width="1.15" />
<line x1="716.5" y1="1058" x2="716.5" y2="1147" stroke="#1a1a1a" stroke-width="1.15" />
<line x1="355.9" y1="1143.5" x2="442.3" y2="1143.5" stroke="#1a1a1a" stroke-width="1" />
<polygon points="355.9,1143.5 368.7,1140.4 368.7,1146.6" fill="#1a1a1a"/>
<polygon points="442.3,1143.5 429.5,1140.4 429.5,1146.6" fill="#1a1a1a"/>
<line x1="442.3" y1="1143.5" x2="630.6" y2="1143.5" stroke="#1a1a1a" stroke-width="1" />
<polygon points="442.3,1143.5 455.1,1140.4 455.1,1146.6" fill="#1a1a1a"/>
<polygon points="630.6,1143.5 617.8,1140.4 617.8,1146.6" fill="#1a1a1a"/>
<line x1="630.6" y1="1143.5" x2="716" y2="1143.5" stroke="#1a1a1a" stroke-width="1" />
<polygon points="630.6,1143.5 643.4,1140.4 643.4,1146.6" fill="#1a1a1a"/>
<polygon points="716,1143.5 703.2,1140.4 703.2,1146.6" fill="#1a1a1a"/>
<text transform="translate(398.6,1139.2) scale(0.9,1)" font-size="16" font-weight="bold" text-anchor="middle" stroke="#1a1a1a" stroke-width="0.55" stroke-linejoin="round">45</text>
<text transform="translate(540,1139) scale(0.9,1)" font-size="16" font-weight="bold" text-anchor="middle" stroke="#1a1a1a" stroke-width="0.55" stroke-linejoin="round">81</text>
<text transform="translate(674.4,1139) scale(0.9,1)" font-size="16" font-weight="bold" text-anchor="middle" stroke="#1a1a1a" stroke-width="0.55" stroke-linejoin="round">45</text>
<rect x="808" y="1171" width="105" height="19" fill="none" stroke="#1a1a1a" stroke-width="1.6" />
<line x1="841" y1="1170.2" x2="841" y2="1191" stroke="#1a1a1a" stroke-width="1.6" />
<path d="M790,1195 L790,1180 L808.3,1180" fill="none" stroke="#1a1a1a" stroke-width="1.3" />
<path d="M812.9,1186.3 L818.3,1175.3 L835.9,1175.3 L830.5,1186.3 Z" fill="none" stroke="#1a1a1a" stroke-width="1.6" />
<text transform="translate(876.5,1186) scale(0.82,1)" font-size="17" font-weight="bold" text-anchor="middle" stroke="#1a1a1a" stroke-width="0.3">0,01/100</text></svg>
</body></html>
